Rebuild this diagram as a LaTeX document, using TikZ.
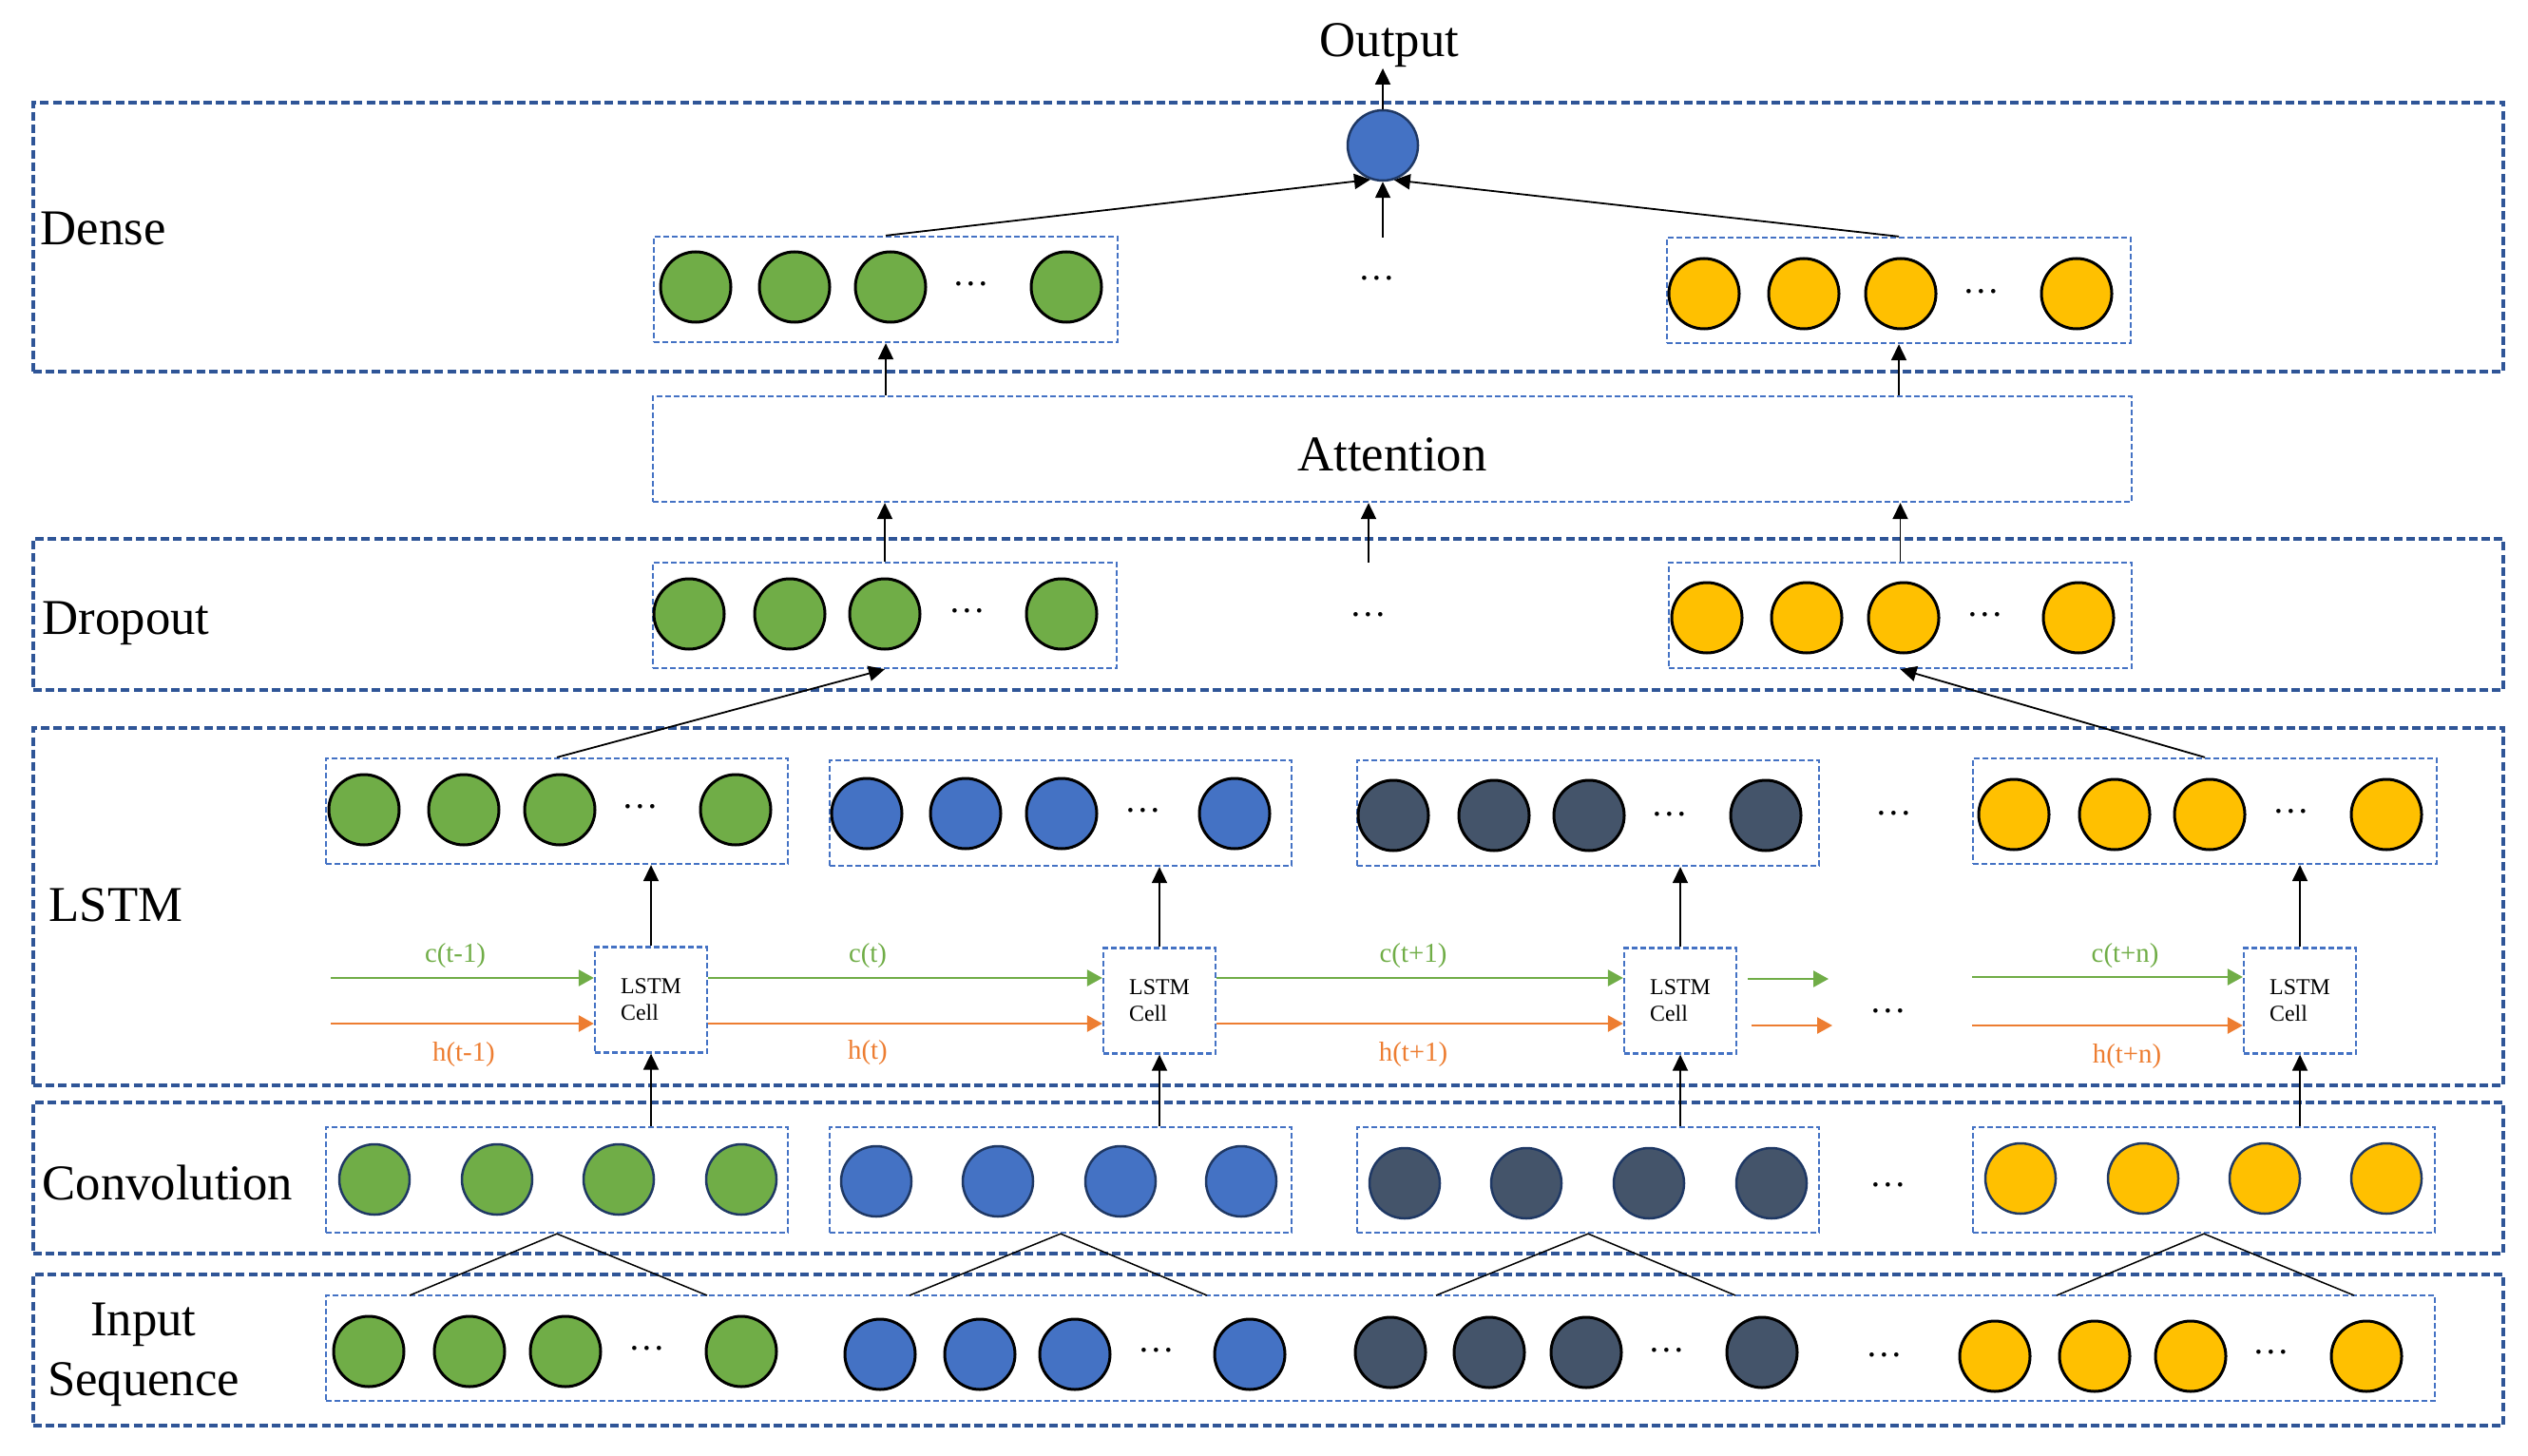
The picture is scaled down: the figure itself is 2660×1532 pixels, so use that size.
\documentclass[tikz,border=0pt]{standalone}
\usepackage{fontspec}
\setmainfont{Liberation Serif}
\usetikzlibrary{arrows.meta,fit}
\definecolor{cgreen}{HTML}{70AD47}
\definecolor{cblue}{HTML}{4472C4}
\definecolor{cdark}{HTML}{44546A}
\definecolor{cyellow}{HTML}{FFC000}
\definecolor{corange}{HTML}{ED7D31}
\definecolor{cframe}{HTML}{2F5597}
\definecolor{cnavy}{HTML}{1F3864}
\newcommand{\mkneurons}[5]{%
  \foreach \xx [count=\ii] in {#5} {\node[#3, fill=#2] (#1\ii) at (\xx,#4) {};}}
\begin{document}
\begin{tikzpicture}[x=0.1mm,y=-0.1mm,
  outerbox/.style={draw=cframe, line width=0.4mm, dash pattern=on 0.9mm off 0.42mm, inner sep=0pt},
  innerbox/.style={draw=cblue, line width=0.23mm, dash pattern=on 0.6mm off 0.3mm, inner sep=0pt},
  neuron/.style={circle, draw=black, line width=0.3mm, minimum size=7.4mm, inner sep=0pt},
  cneuron/.style={circle, draw=cnavy, line width=0.25mm, minimum size=7.4mm, inner sep=0pt},
  layerlabel/.style={font=\fontsize{15}{18}\selectfont, inner sep=0pt},
  dotslabel/.style={font=\fontsize{11}{13}\selectfont, inner sep=0pt},
  cellbox/.style={draw=cblue, line width=0.23mm, dash pattern=on 0.6mm off 0.3mm, minimum width=11.8mm, minimum height=11.1mm, align=left, inner sep=0pt, font=\fontsize{6.8}{8}\selectfont},
  seqc/.style={text=cgreen, font=\fontsize{8.2}{10}\selectfont, inner sep=0pt},
  seqh/.style={text=corange, font=\fontsize{8.2}{10}\selectfont, inner sep=0pt},
  arr/.style={-{Triangle[length=1.7mm,width=1.6mm]}, line width=0.18mm, draw=black},
  carr/.style={-{Triangle[length=1.6mm,width=1.7mm]}, line width=0.25mm, draw=cgreen, fill=cgreen},
  harr/.style={-{Triangle[length=1.6mm,width=1.7mm]}, line width=0.25mm, draw=corange, fill=corange},
  tri/.style={line width=0.15mm, draw=black}]
\useasboundingbox (0,0) rectangle (2660,1532);

% ---------- outer layer frames ----------
\node[outerbox, fit={(35,108) (2634,391)}] (Ldense) {};
\node[outerbox, fit={(35,567) (2634,726)}] (Ldrop) {};
\node[outerbox, fit={(35,766) (2634,1142)}] (Llstm) {};
\node[outerbox, fit={(35,1160) (2634,1319)}] (Lconv) {};
\node[outerbox, fit={(35,1341) (2634,1500)}] (Linput) {};

% ---------- layer labels ----------
\node[layerlabel, anchor=base] (outtxt) at (1462,60) {Output};
\node[layerlabel, anchor=base west] (densetxt) at (42,258) {Dense};
\node[layerlabel, anchor=base west] (droptxt) at (44,667) {Dropout};
\node[layerlabel, anchor=base west] (lstmtxt) at (51,969) {LSTM};
\node[layerlabel, anchor=base west] (convtxt) at (44,1262) {Convolution};
\node[layerlabel, anchor=base] (intxt1) at (151,1405) {Input};
\node[layerlabel, anchor=base] (intxt2) at (151,1468) {Sequence};

% ---------- inner boxes ----------
\node[innerbox, fit={(688,249) (1176,360)}] (dgbox) {};
\node[innerbox, fit={(1754,250) (2242,361)}] (dybox) {};
\node[innerbox, fit={(687,417) (2243,528)}] (attn) {};
\node[layerlabel, anchor=base] (attntxt) at (1465,495) {Attention};
\node[innerbox, fit={(687,592) (1175,703)}] (drgbox) {};
\node[innerbox, fit={(1756,592) (2243,703)}] (drybox) {};
\node[innerbox, fit={(343,798) (829,909)}] (lgbox) {};
\node[innerbox, fit={(873,800) (1359,911)}] (lbbox) {};
\node[innerbox, fit={(1428,800) (1914,911)}] (ldbox) {};
\node[innerbox, fit={(2076,798) (2564,909)}] (lybox) {};
\node[innerbox, fit={(343,1186) (829,1297)}] (cgbox) {};
\node[innerbox, fit={(873,1186) (1359,1297)}] (cbbox) {};
\node[innerbox, fit={(1428,1186) (1914,1297)}] (cdbox) {};
\node[innerbox, fit={(2076,1186) (2562,1297)}] (cybox) {};
\node[innerbox, fit={(343,1363) (2562,1474)}] (inbox) {};

% ---------- neurons ----------
\node[circle, draw=cnavy, line width=0.25mm, minimum size=7.4mm, inner sep=0pt, fill=cblue] (outc) at (1455,153) {};
\mkneurons{dg}{cgreen}{neuron}{302}{732,836,937,1122}
\node[dotslabel] (dgd) at (1022,299) {…};
\mkneurons{dy}{cyellow}{neuron}{309}{1793,1898,2000,2185}
\node[dotslabel] (dyd) at (2085,307) {…};
\node[dotslabel] (dmd) at (1449,293) {…};

\mkneurons{drg}{cgreen}{neuron}{646}{725,831,931,1117}
\node[dotslabel] (drgd) at (1018,643) {…};
\mkneurons{dry}{cyellow}{neuron}{650}{1796,1901,2003,2187}
\node[dotslabel] (dryd) at (2089,647) {…};
\node[dotslabel] (drmd) at (1440,647) {…};

\mkneurons{lg}{cgreen}{neuron}{852}{383,488,589,774}
\node[dotslabel] (lgd) at (674,849) {…};
\mkneurons{lb}{cblue}{neuron}{856}{912,1016,1117,1299}
\node[dotslabel] (lbd) at (1203,853) {…};
\mkneurons{ld}{cdark}{neuron}{858}{1466,1572,1672,1858}
\node[dotslabel] (ldd) at (1757,857) {…};
\mkneurons{ly}{cyellow}{neuron}{857}{2119,2225,2325,2511}
\node[dotslabel] (lyd) at (2411,854) {…};
\node[dotslabel] (lmd) at (1993,856) {…};

\mkneurons{cg}{cgreen}{cneuron}{1241}{394,523,651,780}
\mkneurons{cb}{cblue}{cneuron}{1243}{922,1050,1179,1306}
\mkneurons{cd}{cdark}{cneuron}{1245}{1478,1606,1735,1864}
\mkneurons{cy}{cyellow}{cneuron}{1240}{2126,2255,2383,2511}
\node[dotslabel] (cmd) at (1987,1247) {…};

\mkneurons{ig}{cgreen}{neuron}{1422}{388,494,595,780}
\node[dotslabel] (igd) at (681,1419) {…};
\mkneurons{ib}{cblue}{neuron}{1425}{926,1031,1131,1315}
\node[dotslabel] (ibd) at (1217,1421) {…};
\mkneurons{id}{cdark}{neuron}{1423}{1463,1567,1669,1854}
\node[dotslabel] (idd) at (1754,1421) {…};
\mkneurons{iy}{cyellow}{neuron}{1427}{2099,2204,2305,2490}
\node[dotslabel] (iyd) at (2390,1423) {…};
\node[dotslabel] (imd) at (1983,1426) {…};

% ---------- LSTM cells ----------
\node[cellbox] (cell1) at (685,1052) {LSTM\\Cell};
\node[cellbox] (cell2) at (1220,1053) {LSTM\\Cell};
\node[cellbox] (cell3) at (1768,1053) {LSTM\\Cell};
\node[cellbox] (cell4) at (2420,1053) {LSTM\\Cell};

% ---------- state arrows ----------
\coordinate (c0) at (348,1029);
\coordinate (h0) at (348,1077);
\coordinate (cs) at (1839,1030);
\coordinate (ce) at (1924,1030);
\coordinate (hs) at (1843,1079);
\coordinate (he) at (1928,1079);
\coordinate (cn) at (2075,1028);
\coordinate (hn) at (2075,1079);
\draw[carr] (c0) -- (c0 -| cell1.west);
\draw[harr] (h0) -- (h0 -| cell1.west);
\draw[carr] (cell1.east |- c0) -- (cell2.west |- c0);
\draw[harr] (cell1.east |- h0) -- (cell2.west |- h0);
\draw[carr] (cell2.east |- c0) -- (cell3.west |- c0);
\draw[harr] (cell2.east |- h0) -- (cell3.west |- h0);
\draw[carr] (cs) -- (ce);
\draw[harr] (hs) -- (he);
\draw[carr] (cn) -- (cn -| cell4.west);
\draw[harr] (hn) -- (hn -| cell4.west);
\node[dotslabel] (cellmd) at (1987,1064) {…};

\node[seqc] (lc0) at (479,1006) {c(t-1)};
\node[seqh] (lh0) at (488,1110) {h(t-1)};
\node[seqc] (lc1) at (913,1006) {c(t)};
\node[seqh] (lh1) at (913,1108) {h(t)};
\node[seqc] (lc2) at (1487,1006) {c(t+1)};
\node[seqh] (lh2) at (1487,1110) {h(t+1)};
\node[seqc] (lc3) at (2236,1006) {c(t+n)};
\node[seqh] (lh3) at (2238,1112) {h(t+n)};

% ---------- vertical connectors ----------
\draw[arr] (outc.north) -- (outc.north |- outtxt.south);
\coordinate (dmid) at (1455,250);
\draw[arr] (dgbox.north) -- (outc.250);
\draw[arr] (dybox.north) -- (outc.288);
\draw[arr] (dmid) -- (outc.south);

\draw[arr] (attn.north -| dgbox.south) -- (dgbox.south);
\draw[arr] (attn.north -| dybox.south) -- (dybox.south);
\draw[arr] (drgbox.north) -- (drgbox.north |- attn.south);
\draw[arr] (drybox.north) -- (drybox.north |- attn.south);
\coordinate (drmid) at (1440,592);
\draw[arr] (drmid) -- (drmid |- attn.south);

\draw[arr] (lgbox.north) -- (drgbox.south);
\draw[arr] (lybox.north) -- (drybox.south);

\draw[arr] (cell1.north) -- (cell1.north |- lgbox.south);
\draw[arr] (cell2.north) -- (cell2.north |- lbbox.south);
\draw[arr] (cell3.north) -- (cell3.north |- ldbox.south);
\draw[arr] (cell4.north) -- (cell4.north |- lybox.south);

\draw[arr] (cell1.south |- cgbox.north) -- (cell1.south);
\draw[arr] (cell2.south |- cbbox.north) -- (cell2.south);
\draw[arr] (cell3.south |- cdbox.north) -- (cell3.south);
\draw[arr] (cell4.south |- cybox.north) -- (cell4.south);

% ---------- convolution windows ----------
\coordinate (fgl) at (431,1363);
\coordinate (fgr) at (744,1363);
\coordinate (fbl) at (957,1363);
\coordinate (fbr) at (1270,1363);
\coordinate (fdl) at (1511,1363);
\coordinate (fdr) at (1826,1363);
\coordinate (fyl) at (2164,1363);
\coordinate (fyr) at (2477,1363);
\draw[tri] (fgl) -- (cgbox.south) -- (fgr);
\draw[tri] (fbl) -- (cbbox.south) -- (fbr);
\draw[tri] (fdl) -- (cdbox.south) -- (fdr);
\draw[tri] (fyl) -- (cybox.south) -- (fyr);
\end{tikzpicture}
\end{document}
